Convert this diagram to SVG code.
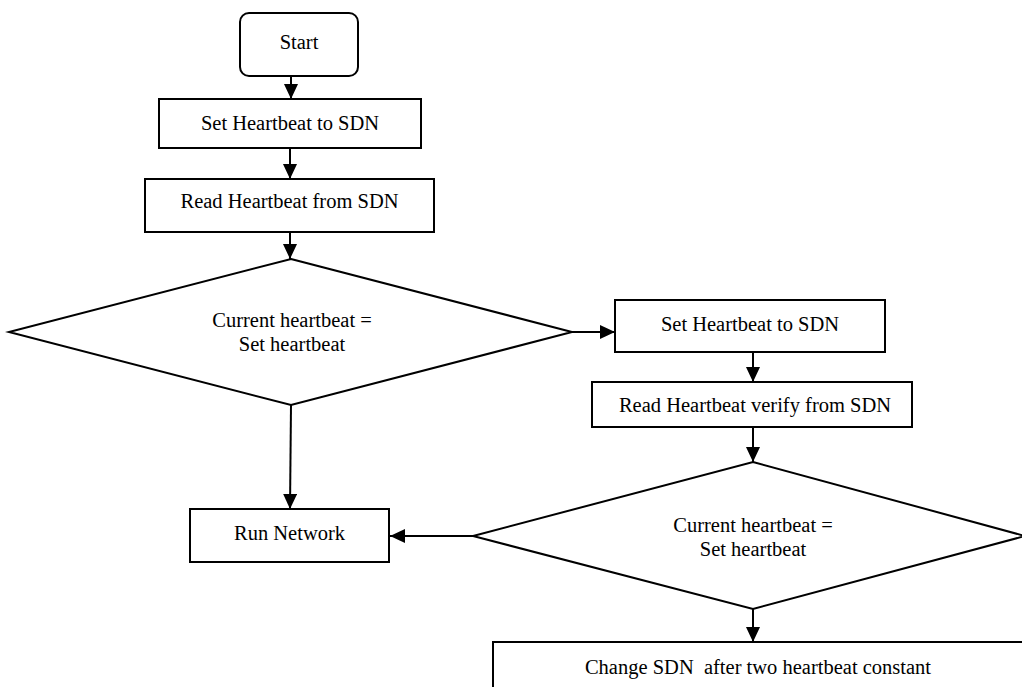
<svg xmlns="http://www.w3.org/2000/svg" width="1022" height="687" viewBox="0 0 1022 687">
<defs>
<marker id="ah" markerUnits="userSpaceOnUse" markerWidth="15" markerHeight="14" refX="15" refY="7" orient="auto">
<path d="M0,0 L15,7 L0,14 z" fill="#000"/>
</marker>
<style>
.n{fill:#fff;stroke:#000;stroke-width:2}
.t{font-size:20.5px;fill:#000;text-anchor:middle}
.c{stroke:#000;stroke-width:2;fill:none;marker-end:url(#ah)}
</style>
</defs>
<rect width="1022" height="687" fill="#fff"/>
<g id="connectors">
<line class="c" x1="291" y1="76" x2="291" y2="99"/>
<line class="c" x1="290" y1="148" x2="290" y2="179"/>
<line class="c" x1="290" y1="232" x2="290" y2="259"/>
<line class="c" x1="572" y1="332" x2="615" y2="332"/>
<line class="c" x1="753" y1="352" x2="753" y2="382"/>
<line class="c" x1="753" y1="427" x2="753" y2="462"/>
<line class="c" x1="291" y1="405" x2="290" y2="509"/>
<line class="c" x1="473" y1="536" x2="390" y2="536"/>
<line class="c" x1="753" y1="609" x2="753" y2="642"/>
</g>
<g font-family="Liberation Serif, Times New Roman, serif">
<g id="start">
<rect class="n" x="240" y="13" width="118" height="63" rx="9"/>
<text class="t" x="299" y="49">Start</text>
</g>
<g id="set1">
<rect class="n" x="159" y="99" width="262" height="49"/>
<text class="t" x="290" y="130">Set Heartbeat to SDN</text>
</g>
<g id="read1">
<rect class="n" x="145" y="179" width="289" height="53"/>
<text class="t" x="289.5" y="208">Read Heartbeat from SDN</text>
</g>
<g id="decision1">
<polygon class="n" points="291,259 572,332 291,405 9,332"/>
<text class="t" x="292" y="327">Current heartbeat =</text>
<text class="t" x="292" y="351">Set heartbeat</text>
</g>
<g id="set2">
<rect class="n" x="615" y="300" width="270" height="52"/>
<text class="t" x="750" y="331">Set Heartbeat to SDN</text>
</g>
<g id="read2">
<rect class="n" x="592" y="382" width="320" height="45"/>
<text class="t" x="755" y="412">Read Heartbeat verify from SDN</text>
</g>
<g id="run">
<rect class="n" x="190" y="509" width="199" height="53"/>
<text class="t" x="289.5" y="540">Run Network</text>
</g>
<g id="decision2">
<polygon class="n" points="753,462 1025,536 753,609 473,536"/>
<text class="t" x="753" y="532">Current heartbeat =</text>
<text class="t" x="753" y="556">Set heartbeat</text>
</g>
<g id="change">
<rect class="n" x="493" y="642" width="540" height="60"/>
<text class="t" x="758" y="674" xml:space="preserve">Change SDN  after two heartbeat constant</text>
</g>
</g>
</svg>
